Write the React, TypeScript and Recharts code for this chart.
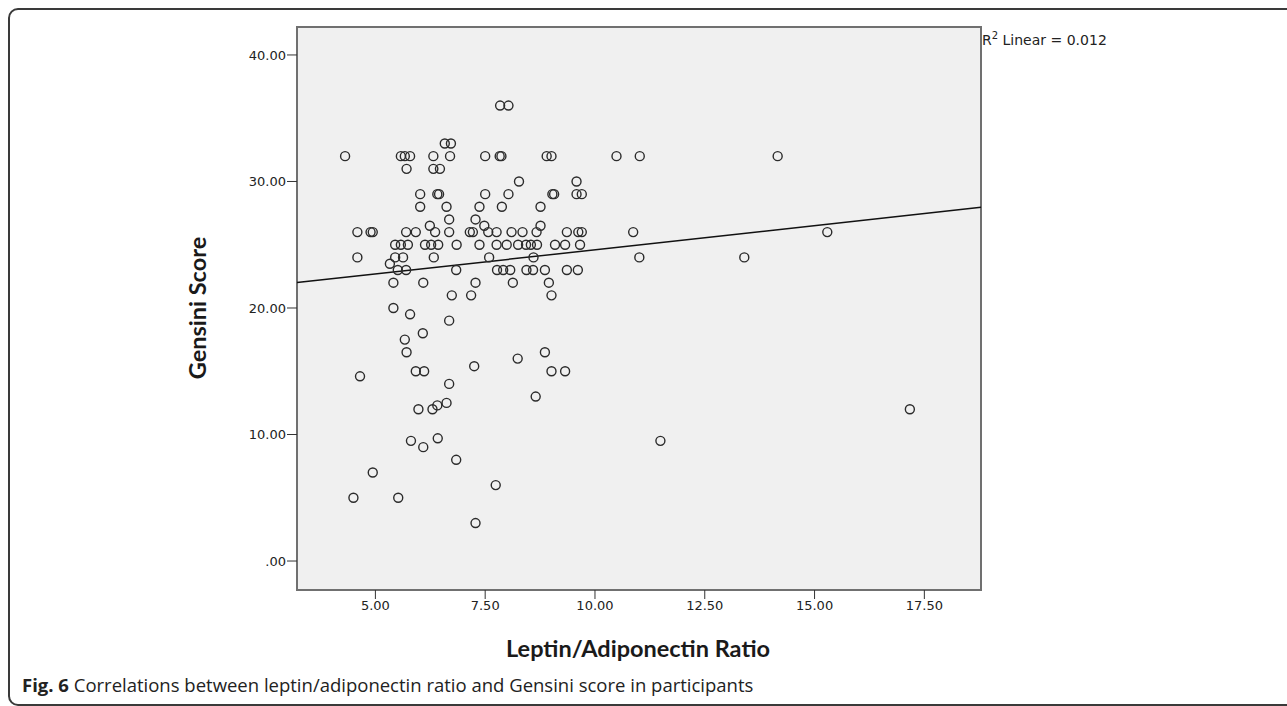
import { ScatterChart, Scatter, XAxis, YAxis, CartesianGrid, ReferenceArea, ReferenceLine } from 'recharts'

// Gensini score levels and the leptin/adiponectin ratios observed at each level
const scoreLevels = [36, 33, 32, 31, 30, 29, 28, 27, 26.5, 26, 25, 24, 23.5, 23, 22, 21, 20, 19.5, 19, 18, 17.5, 16.5, 16, 15.4, 15, 14.6, 14, 13, 12.5, 12.3, 12, 9.7, 9.5, 9, 8, 7, 6, 5, 3]

const ratiosAtLevel = [
  [7.84, 8.03],
  [6.58, 6.72],
  [4.31, 5.58, 5.67, 5.79, 6.32, 6.7, 7.5, 7.83, 7.87, 8.9, 9.01, 10.49, 11.02, 14.16],
  [5.71, 6.32, 6.47],
  [8.27, 9.58],
  [6.02, 6.41, 6.45, 7.5, 8.03, 9.03, 9.07, 9.58, 9.7],
  [6.02, 6.62, 7.37, 7.88, 8.76],
  [6.68, 7.28],
  [6.24, 7.48, 8.76],
  [4.59, 4.89, 4.94, 5.7, 5.92, 6.36, 6.68, 7.15, 7.22, 7.57, 7.76, 8.1, 8.35, 8.67, 9.36, 9.62, 9.7, 10.87, 15.29],
  [5.45, 5.58, 5.74, 6.13, 6.27, 6.43, 6.85, 7.37, 7.76, 7.99, 8.25, 8.43, 8.54, 8.68, 9.09, 9.32, 9.66],
  [4.59, 5.45, 5.63, 6.33, 7.59, 8.6, 11.01, 13.4],
  [5.33],
  [5.51, 5.7, 6.84, 7.77, 7.91, 8.07, 8.44, 8.59, 8.86, 9.36, 9.61],
  [5.41, 6.09, 7.28, 8.13, 8.95],
  [6.74, 7.18, 9.01],
  [5.41],
  [5.79],
  [6.68],
  [6.08],
  [5.67],
  [5.71, 8.86],
  [8.24],
  [7.25],
  [5.92, 6.11, 9.01, 9.32],
  [4.65],
  [6.68],
  [8.65],
  [6.62],
  [6.41],
  [5.98, 6.3, 17.17],
  [6.42],
  [5.81, 11.49],
  [6.09],
  [6.84],
  [4.94],
  [7.74],
  [4.5, 5.52],
  [7.28],
]

// linear fit as printed (R2 Linear = 0.012)
const fitIntercept = 20.78
const fitSlope = 0.382
const rSquared = '0.012'

const xTicks = [5, 7.5, 10, 12.5, 15, 17.5]
const yTicks = [0, 10, 20, 30, 40]
const xDomain = [3.215, 18.79]
const yDomain = [-2.29, 42.21]

const points = scoreLevels.flatMap((score, i) =>
  ratiosAtLevel[i].map((ratio) => ({ x: ratio, y: score }))
)

function spssNumber(v: number) {
  const s = v.toFixed(2)
  return s.startsWith('0.') ? s.slice(1) : s
}

function HollowDot(props: any) {
  const { cx, cy } = props
  if (cx == null || cy == null) return null
  return <circle cx={cx} cy={cy} r={4.5} fill="none" stroke="#2b2b2b" strokeWidth={1.4} />
}

const tickStyle = { fontFamily: 'DejaVu Sans', fontSize: 13, fill: '#222' }

export default function App() {
  return (
    <div
      style={{
        position: 'absolute',
        left: 0,
        top: 0,
        width: 1287,
        height: 706,
        overflow: 'hidden',
        background: '#fff',
      }}
    >
      {/* figure frame */}
      <div
        style={{
          position: 'absolute',
          left: 8,
          top: 8,
          width: 1400,
          height: 694,
          border: '2px solid #3a3a3a',
          borderRadius: 10,
        }}
      />

      <div style={{ position: 'absolute', left: 0, top: 0 }}>
        <ScatterChart width={1287} height={706} margin={{ top: 27, right: 306, bottom: 86, left: 237 }}>
          <CartesianGrid horizontal={false} vertical={false} fill="#f0f0f0" fillOpacity={1} />
          <XAxis
            type="number"
            dataKey="x"
            domain={xDomain}
            ticks={xTicks}
            height={30}
            tickFormatter={spssNumber}
            tick={tickStyle}
            tickSize={9}
            tickMargin={2}
            axisLine={false}
            tickLine={{ stroke: '#333' }}
            allowDataOverflow
          />
          <YAxis
            type="number"
            dataKey="y"
            domain={yDomain}
            ticks={yTicks}
            width={60}
            tickFormatter={spssNumber}
            tick={tickStyle}
            tickSize={10}
            tickMargin={1}
            axisLine={false}
            tickLine={{ stroke: '#333' }}
            allowDataOverflow
          />
          <ReferenceArea
            x1={xDomain[0]}
            x2={xDomain[1]}
            y1={yDomain[0]}
            y2={yDomain[1]}
            fill="none"
            stroke="#707070"
            strokeWidth={2}
            ifOverflow="visible"
          />
          <ReferenceLine
            segment={[
              { x: xDomain[0], y: fitIntercept + fitSlope * xDomain[0] },
              { x: xDomain[1], y: fitIntercept + fitSlope * xDomain[1] },
            ]}
            stroke="#111"
            strokeWidth={1.5}
          />
          <Scatter data={points} shape={<HollowDot />} isAnimationActive={false} />
        </ScatterChart>
      </div>

      <div
        style={{
          position: 'absolute',
          left: 982,
          top: 30,
          fontFamily: 'DejaVu Sans',
          fontSize: 14,
          color: '#222',
          whiteSpace: 'nowrap',
        }}
      >
        R<sup style={{ fontSize: 10 }}>2</sup> Linear = {rSquared}
      </div>

      <div
        style={{
          position: 'absolute',
          left: 197,
          top: 308,
          transform: 'translate(-50%, -50%) rotate(-90deg)',
          fontFamily: 'Lato',
          fontWeight: 700,
          fontSize: 23.5,
          color: '#1a1a1a',
          whiteSpace: 'nowrap',
        }}
      >
        Gensini Score
      </div>

      <div
        style={{
          position: 'absolute',
          left: 638,
          top: 648,
          transform: 'translate(-50%, -50%)',
          fontFamily: 'Lato',
          fontWeight: 700,
          fontSize: 23.5,
          color: '#1a1a1a',
          whiteSpace: 'nowrap',
        }}
      >
        Leptin/Adiponectin Ratio
      </div>

      <div
        style={{
          position: 'absolute',
          left: 22,
          top: 684,
          transform: 'translateY(-50%)',
          fontFamily: 'Open Sans',
          fontSize: 18.5,
          color: '#222',
          whiteSpace: 'nowrap',
        }}
      >
        <b>Fig. 6</b> Correlations between leptin/adiponectin ratio and Gensini score in participants
      </div>
    </div>
  )
}
